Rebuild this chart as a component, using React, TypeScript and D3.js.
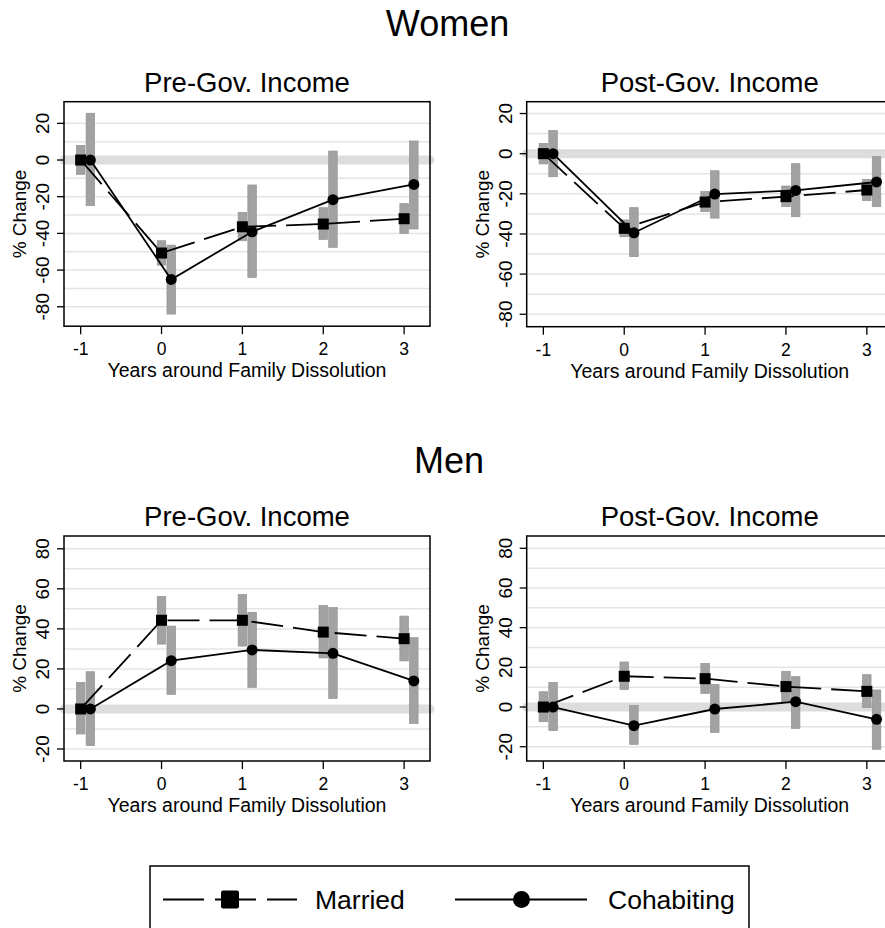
import React from 'react';
import * as d3 from 'd3';

// Event time, years relative to family dissolution
const years = [-1, 0, 1, 2, 3];
// Cohabiting estimates are nudged right so the intervals do not overlap
const cohabOffset = 0.12;

// Women, pre-government income
const womenPreMarried = [0, -50.7, -36.4, -34.9, -32];
const womenPreMarriedLow = [-7.8, -57.3, -44, -43.3, -40];
const womenPreMarriedHigh = [8, -44, -28.5, -26, -23.8];
const womenPreCohab = [0, -65.1, -39.1, -21.6, -13.3];
const womenPreCohabLow = [-24.9, -84, -64, -47.6, -37.6];
const womenPreCohabHigh = [25.5, -46.4, -13.6, 4.9, 10.4];

// Women, post-government income
const womenPostMarried = [0, -37.2, -24.1, -21.4, -18.1];
const womenPostMarriedLow = [-5.1, -41.4, -28.9, -26.4, -23.4];
const womenPostMarriedHigh = [5.1, -33, -18.9, -16.1, -12.8];
const womenPostCohab = [0, -39.4, -20.1, -18.3, -14.1];
const womenPostCohabLow = [-11.5, -51.3, -32.1, -31.4, -26.4];
const womenPostCohabHigh = [11.6, -26.9, -8.5, -5, -1.5];

// Men, pre-government income
const menPreMarried = [0, 44.3, 44.3, 38.4, 35.1];
const menPreMarriedLow = [-12.5, 32.4, 31.4, 25.5, 24];
const menPreMarriedHigh = [13.3, 56.2, 57.2, 51.7, 46.4];
const menPreCohab = [0, 24.1, 29.5, 27.8, 14];
const menPreCohabLow = [-18.3, 7.3, 10.8, 5.2, -7.2];
const menPreCohabHigh = [18.6, 41.4, 48.3, 50.7, 35.6];

// Men, post-government income
const menPostMarried = [0, 15.5, 14.3, 10.3, 7.9];
const menPostMarriedLow = [-7.4, 8.9, 6.9, 2.7, -0.2];
const menPostMarriedHigh = [7.7, 22.7, 22, 18, 16.3];
const menPostCohab = [0, -9.4, -1, 2.7, -6.2];
const menPostCohabLow = [-11.9, -18.8, -12.8, -10.8, -21.3];
const menPostCohabHigh = [12.4, 0.7, 11.4, 15.3, 8.6];

// Axis ticks
const womenYTicks = [-80, -60, -40, -20, 0, 20];
const womenGrid = [-80, -70, -60, -50, -40, -30, -20, -10, 0, 10, 20];
const menYTicks = [-20, 0, 20, 40, 60, 80];
const menGrid = [-20, -10, 0, 10, 20, 30, 40, 50, 60, 70, 80];

// Text
const groupTitles = ['Women', 'Men'];
const panelTitles = ['Pre-Gov. Income', 'Post-Gov. Income'];
const xTitle = 'Years around Family Dissolution';
const yTitle = '% Change';
const legendLabels = ['Married', 'Cohabiting'];

const W = 885;
const H = 928;
const FONT = '"Liberation Sans", Arial, Helvetica, sans-serif';
const X_DOMAIN: [number, number] = [-1.206, 3.32];
const BOX_W = 366;

type Series = { est: number[]; low: number[]; high: number[] };
type Panel = {
  title: string;
  box: { x: number; y: number; w: number; h: number };
  yDomain: [number, number];
  ticks: number[];
  grid: number[];
  married: Series;
  cohab: Series;
};

const panels: Panel[] = [
  {
    title: panelTitles[0],
    box: { x: 64, y: 101.7, w: BOX_W, h: 224.5 },
    yDomain: [-90.6, 31.8],
    ticks: womenYTicks,
    grid: womenGrid,
    married: { est: womenPreMarried, low: womenPreMarriedLow, high: womenPreMarriedHigh },
    cohab: { est: womenPreCohab, low: womenPreCohabLow, high: womenPreCohabHigh },
  },
  {
    title: panelTitles[1],
    box: { x: 526.7, y: 101.7, w: BOX_W, h: 225 },
    yDomain: [-86.2, 25.9],
    ticks: womenYTicks,
    grid: womenGrid,
    married: { est: womenPostMarried, low: womenPostMarriedLow, high: womenPostMarriedHigh },
    cohab: { est: womenPostCohab, low: womenPostCohabLow, high: womenPostCohabHigh },
  },
  {
    title: panelTitles[0],
    box: { x: 64, y: 536, w: BOX_W, h: 225 },
    yDomain: [-26, 86.4],
    ticks: menYTicks,
    grid: menGrid,
    married: { est: menPreMarried, low: menPreMarriedLow, high: menPreMarriedHigh },
    cohab: { est: menPreCohab, low: menPreCohabLow, high: menPreCohabHigh },
  },
  {
    title: panelTitles[1],
    box: { x: 526.7, y: 536, w: BOX_W, h: 225 },
    yDomain: [-27.2, 86.2],
    ticks: menYTicks,
    grid: menGrid,
    married: { est: menPostMarried, low: menPostMarriedLow, high: menPostMarriedHigh },
    cohab: { est: menPostCohab, low: menPostCohabLow, high: menPostCohabHigh },
  },
];

const CI_FILL = '#a2a2a2';
const CI_STROKE = '#929292';
const GRID = '#e4e4e4';
const ZERO = '#dddddd';
const DASH = '32,10';

function PanelView({ p }: { p: Panel }) {
  const { box } = p;
  const x = d3.scaleLinear().domain(X_DOMAIN).range([box.x, box.x + box.w]);
  const y = d3.scaleLinear().domain(p.yDomain).range([box.y + box.h, box.y]);
  const line = d3
    .line<number>()
    .x((_, i) => x(years[i]))
    .y((d) => y(d));
  const lineC = d3
    .line<number>()
    .x((_, i) => x(years[i] + cohabOffset))
    .y((d) => y(d));
  const ciW = 8.5;
  const sq = 11;
  const cx = box.x + box.w / 2;
  const cy = box.y + box.h / 2;

  return (
    <g>
      <text x={cx} y={box.y - 10} textAnchor="middle" fontSize={27.5} fontFamily={FONT} fill="#000">
        {p.title}
      </text>
      {p.grid.map((g) => (
        <line key={g} x1={box.x} x2={box.x + box.w} y1={y(g)} y2={y(g)} stroke={GRID} strokeWidth={1.5} />
      ))}
      <line x1={box.x} x2={box.x + box.w} y1={y(0)} y2={y(0)} stroke={ZERO} strokeWidth={9} strokeLinecap="round" />
      {years.map((yr, i) => (
        <rect
          key={'m' + yr}
          x={x(yr) - ciW / 2}
          y={y(p.married.high[i])}
          width={ciW}
          height={y(p.married.low[i]) - y(p.married.high[i])}
          fill={CI_FILL}
          stroke={CI_STROKE}
          strokeWidth={0.7}
        />
      ))}
      {years.map((yr, i) => (
        <rect
          key={'c' + yr}
          x={x(yr + cohabOffset) - ciW / 2}
          y={y(p.cohab.high[i])}
          width={ciW}
          height={y(p.cohab.low[i]) - y(p.cohab.high[i])}
          fill={CI_FILL}
          stroke={CI_STROKE}
          strokeWidth={0.7}
        />
      ))}
      <path d={line(p.married.est) || ''} fill="none" stroke="#000" strokeWidth={1.8} strokeDasharray={DASH} />
      <path d={lineC(p.cohab.est) || ''} fill="none" stroke="#000" strokeWidth={1.8} />
      {years.map((yr, i) => (
        <rect key={'ms' + yr} x={x(yr) - sq / 2} y={y(p.married.est[i]) - sq / 2} width={sq} height={sq} fill="#000" />
      ))}
      {years.map((yr, i) => (
        <circle key={'cc' + yr} cx={x(yr + cohabOffset)} cy={y(p.cohab.est[i])} r={5.5} fill="#000" />
      ))}
      <rect x={box.x} y={box.y} width={box.w} height={box.h} fill="none" stroke="#000" strokeWidth={1.5} />
      {/* y axis */}
      {p.ticks.map((t) => (
        <g key={'yt' + t}>
          <line x1={box.x - 7} x2={box.x} y1={y(t)} y2={y(t)} stroke="#000" strokeWidth={1.3} />
          <text
            transform={`translate(${box.x - 15},${y(t)}) rotate(-90)`}
            textAnchor="middle"
            fontSize={19}
            fontFamily={FONT}
            fill="#000"
          >
            {t}
          </text>
        </g>
      ))}
      <text
        transform={`translate(${box.x - 38},${cy}) rotate(-90)`}
        textAnchor="middle"
        fontSize={19}
        fontFamily={FONT}
        fill="#000"
      >
        {yTitle}
      </text>
      {/* x axis */}
      {years.map((t) => (
        <g key={'xt' + t}>
          <line x1={x(t)} x2={x(t)} y1={box.y + box.h} y2={box.y + box.h + 8} stroke="#000" strokeWidth={1.3} />
          <text x={x(t)} y={box.y + box.h + 29} textAnchor="middle" fontSize={17.5} fontFamily={FONT} fill="#000">
            {t}
          </text>
        </g>
      ))}
      <text x={cx} y={box.y + box.h + 51} textAnchor="middle" fontSize={19.5} fontFamily={FONT} fill="#000">
        {xTitle}
      </text>
    </g>
  );
}

function Legend() {
  const ly = 899.5;
  return (
    <g>
      <rect x={150} y={866} width={599} height={90} fill="#fff" stroke="#000" strokeWidth={1.5} />
      <line x1={163} x2={297} y1={ly} y2={ly} stroke="#000" strokeWidth={2} strokeDasharray="41,11" />
      <rect x={221} y={ly - 9} width={18} height={18} rx={2} fill="#000" />
      <text x={315} y={ly + 9.5} fontSize={26.5} fontFamily={FONT} fill="#000">
        {legendLabels[0]}
      </text>
      <line x1={455} x2={587} y1={ly} y2={ly} stroke="#000" strokeWidth={2} />
      <circle cx={521.5} cy={ly} r={8.5} fill="#000" />
      <text x={608} y={ly + 9.5} fontSize={26.5} fontFamily={FONT} fill="#000">
        {legendLabels[1]}
      </text>
    </g>
  );
}

export default function App() {
  return (
    <svg
      width={W}
      height={H}
      viewBox={`0 0 ${W} ${H}`}
      style={{ position: 'absolute', left: 0, top: 0, display: 'block', background: '#fff' }}
    >
      <rect x={0} y={0} width={W} height={H} fill="#fff" />
      <text x={447.5} y={36} textAnchor="middle" fontSize={36} fontFamily={FONT} fill="#000">
        {groupTitles[0]}
      </text>
      <text x={449} y={473} textAnchor="middle" fontSize={36} fontFamily={FONT} fill="#000">
        {groupTitles[1]}
      </text>
      {panels.map((p, i) => (
        <PanelView key={i} p={p} />
      ))}
      <Legend />
    </svg>
  );
}
